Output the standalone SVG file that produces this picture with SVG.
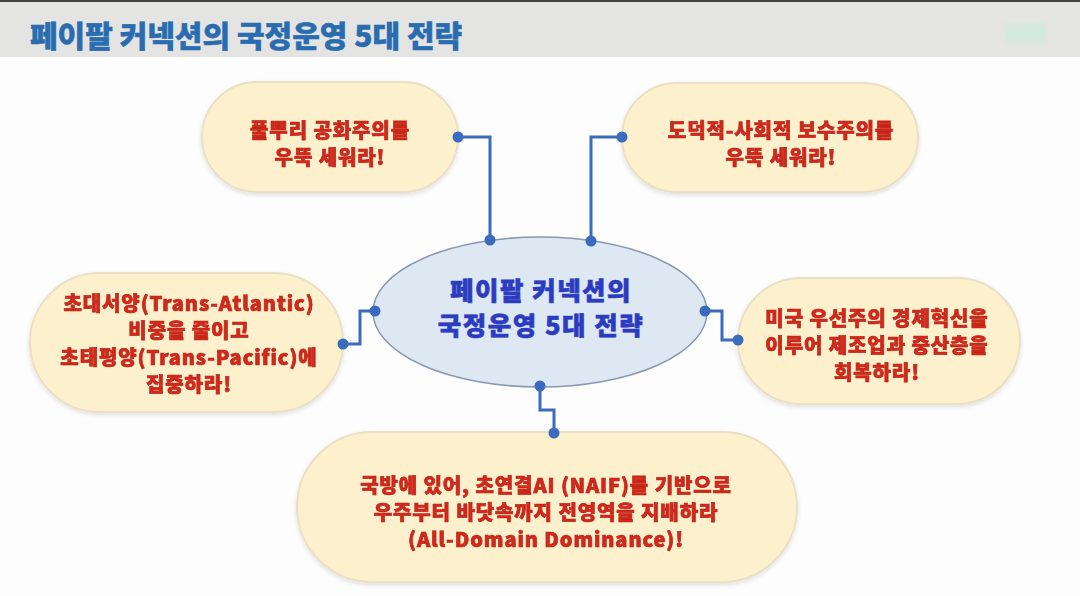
<svg xmlns="http://www.w3.org/2000/svg" width="1080" height="596" viewBox="0 0 1080 596">
  <defs>
    <style>
      .pill { fill: #fdf0cd; stroke: #ebe0c6; stroke-width: 2; }
      .red { font-family: "Noto Sans CJK KR", "Noto Sans", sans-serif; font-weight: 900; font-size: 20px; letter-spacing: 0.9px; fill: #d0291b; stroke: #c02418; stroke-width: 0.7; text-anchor: middle; }
      .blue { font-family: "Noto Sans CJK KR", "Noto Sans", sans-serif; font-weight: 900; font-size: 25.5px; letter-spacing: 1.5px; fill: #2b3cc0; stroke: #2b3cc0; stroke-width: 0.6; text-anchor: middle; }
      .title { font-family: "Noto Sans CJK KR", "Noto Sans", sans-serif; font-weight: 900; font-size: 30px; fill: #2a6cb0; stroke: #2a6cb0; stroke-width: 0.5; }
      .conn { fill: none; stroke: #3a6bbd; stroke-width: 3; stroke-linejoin: miter; }
      .dot { fill: #3a6bbd; }
    </style>
    <filter id="sh" x="-10%" y="-10%" width="120%" height="130%">
      <feDropShadow dx="0" dy="2" stdDeviation="2" flood-color="#000" flood-opacity="0.12"/>
    </filter>
    <filter id="blur"><feGaussianBlur stdDeviation="2"/></filter>
  </defs>

  <rect x="0" y="0" width="1080" height="596" fill="#fdfdfd"/>
  <rect x="0" y="0" width="1080" height="57" fill="#e4e4e2"/>
  <rect x="0" y="0" width="1080" height="2" fill="#444"/>
  <rect x="1006" y="23" width="40" height="20" fill="#d3e8df" filter="url(#blur)"/>
  <text class="title" x="30" y="47">페이팔 커넥션의 국정운영 5대 전략</text>

  <g id="center">
    <ellipse cx="540" cy="312" rx="167" ry="75" fill="#dde8f3" stroke="#8898ae" stroke-width="1.5"/>
    <text class="blue" x="541" y="300">페이팔 커넥션의</text>
    <text class="blue" x="541" y="335">국정운영 5대 전략</text>
  </g>

  <g id="node-top-left" filter="url(#sh)">
    <rect class="pill" x="202" y="82" width="256" height="110" rx="55"/>
    <text class="red" x="330" y="138">풀뿌리 공화주의를</text>
    <text class="red" x="330" y="165">우뚝 세워라!</text>
  </g>

  <g id="node-top-right" filter="url(#sh)">
    <rect class="pill" x="622" y="83" width="296" height="109" rx="54.5"/>
    <text class="red" x="781" y="138">도덕적-사회적 보수주의를</text>
    <text class="red" x="781" y="165">우뚝 세워라!</text>
  </g>

  <g id="node-left" filter="url(#sh)">
    <rect class="pill" x="30" y="273" width="313" height="139" rx="69.5"/>
    <text class="red" x="189" y="311">초대서양(Trans-Atlantic)</text>
    <text class="red" x="189" y="338">비중을 줄이고</text>
    <text class="red" x="189" y="365">초태평양(Trans-Pacific)에</text>
    <text class="red" x="189" y="392">집중하라!</text>
  </g>

  <g id="node-right" filter="url(#sh)">
    <rect class="pill" x="738" y="278" width="282" height="126" rx="63"/>
    <text class="red" x="877" y="326">미국 우선주의 경제혁신을</text>
    <text class="red" x="877" y="353">이루어 제조업과 중산층을</text>
    <text class="red" x="877" y="380">회복하라!</text>
  </g>

  <g id="node-bottom" filter="url(#sh)">
    <rect class="pill" x="297" y="432" width="500" height="150" rx="75"/>
    <text class="red" x="546" y="493">국방에 있어, 초연결AI (NAIF)를 기반으로</text>
    <text class="red" x="546" y="520">우주부터 바닷속까지 전영역을 지배하라</text>
    <text class="red" x="546" y="547">(All-Domain Dominance)!</text>
  </g>

  <g id="connectors">
    <polyline class="conn" points="458,137 490,137 490,240"/>
    <circle class="dot" cx="458" cy="137" r="5.5"/>
    <circle class="dot" cx="490" cy="240" r="5.5"/>

    <polyline class="conn" points="622,137 591,137 591,241"/>
    <circle class="dot" cx="622" cy="137" r="5.5"/>
    <circle class="dot" cx="591" cy="241" r="5.5"/>

    <polyline class="conn" points="343,344 360,344 360,311 375,311"/>
    <circle class="dot" cx="343" cy="344" r="5.5"/>
    <circle class="dot" cx="375" cy="311" r="5.5"/>

    <polyline class="conn" points="705,311 722,311 722,340 738,340"/>
    <circle class="dot" cx="705" cy="311" r="5.5"/>
    <circle class="dot" cx="738" cy="340" r="5.5"/>

    <polyline class="conn" points="540,386 540,410 554,410 554,433"/>
    <circle class="dot" cx="540" cy="386" r="5.5"/>
    <circle class="dot" cx="554" cy="433" r="5.5"/>
  </g>
</svg>
